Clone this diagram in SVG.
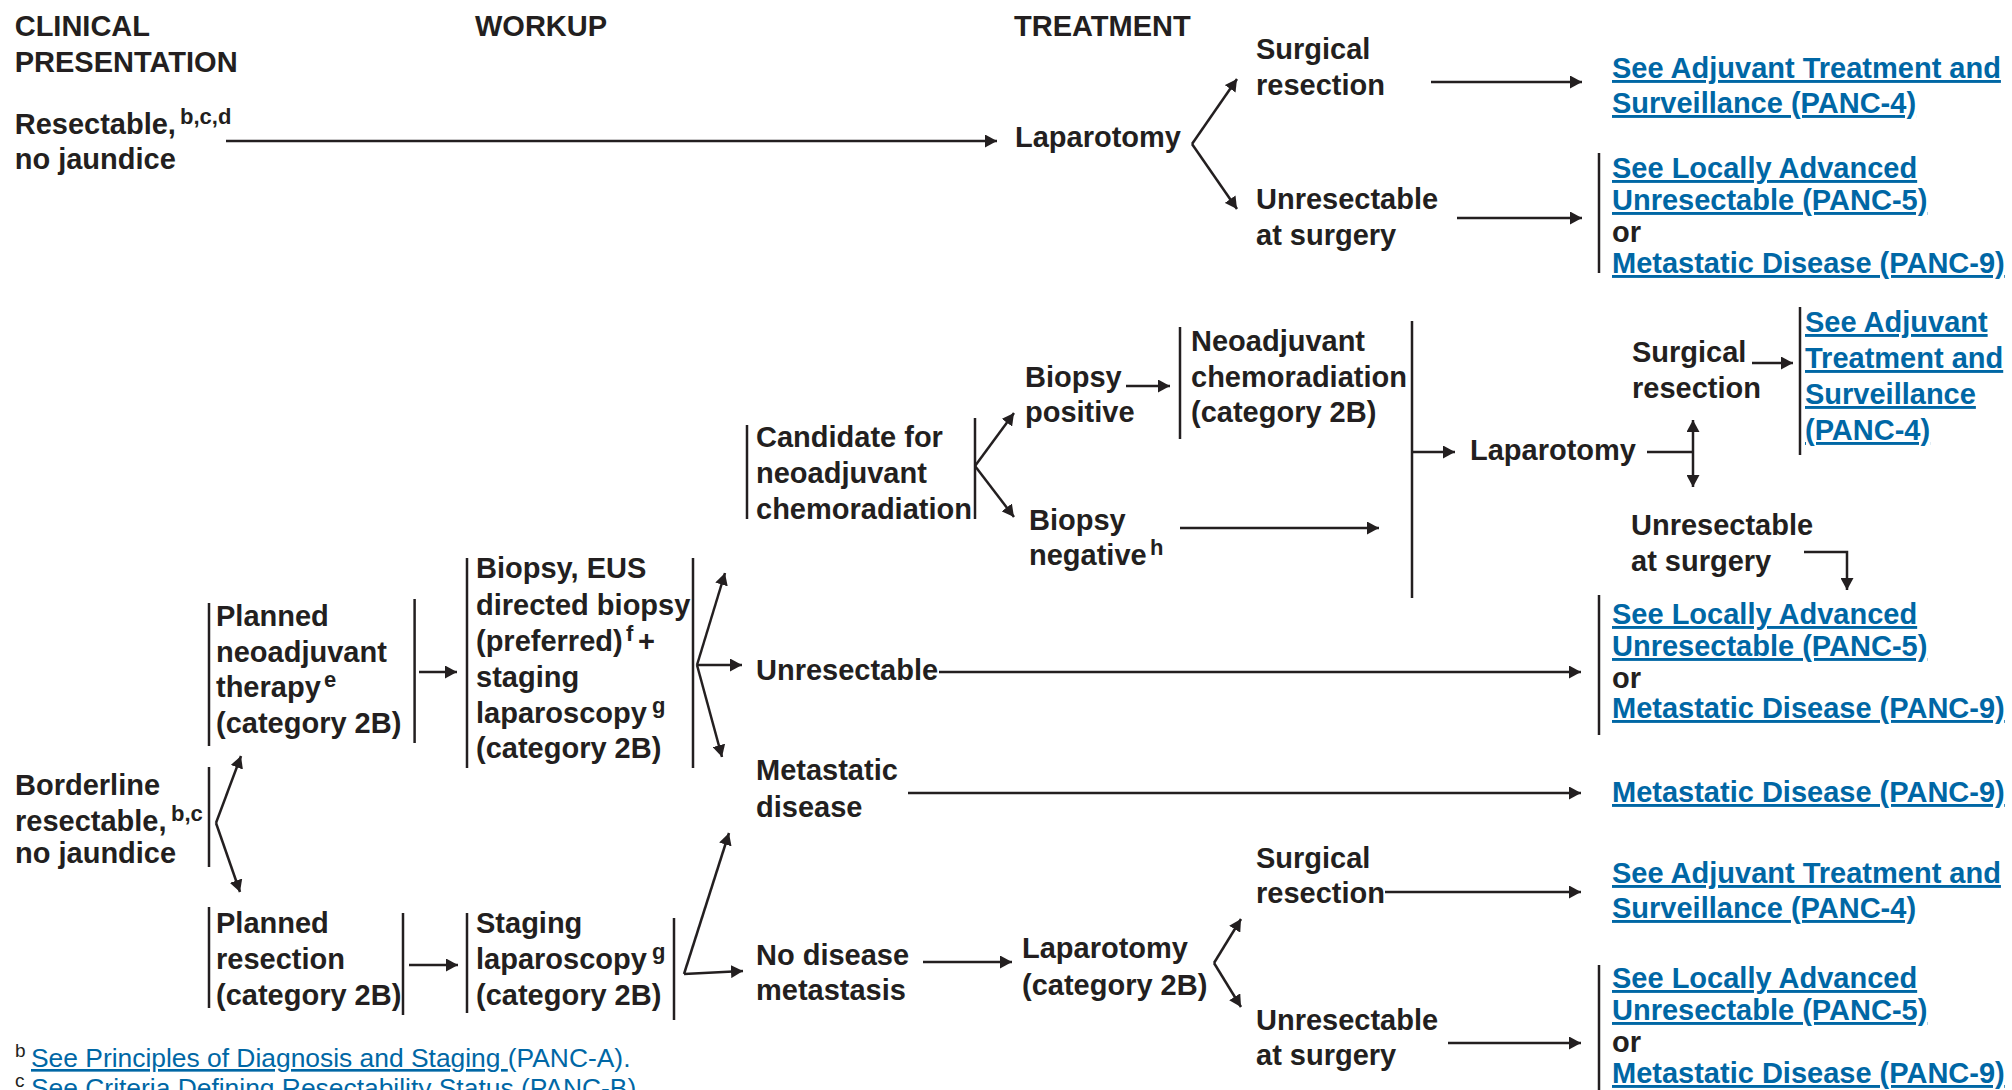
<svg xmlns="http://www.w3.org/2000/svg" width="2012" height="1090" viewBox="0 0 2012 1090">
<style>
text{font-family:"Liberation Sans",Arial,sans-serif;font-weight:bold;font-size:29px;fill:#231f20}
.lk{fill:#0067a5;text-decoration:underline}
.sup{font-size:22px}
.fn{font-weight:normal;font-size:26.4px;fill:#0067a5}
.fs{font-weight:normal;font-size:19px;fill:#231f20}
.bar{stroke:#231f20;stroke-width:2.5;fill:none}
.c line,.c path{stroke:#231f20;stroke-width:2.5;fill:none}
.a{marker-end:url(#ah)}
</style>
<defs>
<marker id="ah" markerUnits="userSpaceOnUse" markerWidth="12" markerHeight="13" refX="12" refY="6.5" orient="auto">
<path d="M0,0 L12,6.5 L0,13 Z" fill="#231f20"/>
</marker>
</defs>
<rect width="2012" height="1090" fill="#fff"/>

<g id="headers">
<text x="14.7" y="36">CLINICAL</text>
<text x="14.7" y="72">PRESENTATION</text>
<text x="475" y="36">WORKUP</text>
<text x="1014" y="36">TREATMENT</text>
</g>

<g id="n_resectable">
<text x="14.7" y="134">Resectable,</text>
<text class="sup" x="180" y="124">b,c,d</text>
<text x="14.7" y="169">no jaundice</text>
</g>
<g id="n_lap1"><text x="1015" y="147">Laparotomy</text></g>
<g id="n_surg1"><text x="1256" y="59">Surgical</text><text x="1256" y="95">resection</text></g>
<g id="n_unres1"><text x="1256" y="209">Unresectable</text><text x="1256" y="245">at surgery</text></g>
<g id="n_link1"><text class="lk" x="1612" y="78">See Adjuvant Treatment and</text><text class="lk" x="1612" y="113">Surveillance (PANC-4)</text></g>
<g id="n_link2">
<line class="bar" x1="1599" y1="153" x2="1599" y2="273"/>
<text class="lk" x="1612" y="178">See Locally Advanced</text>
<text class="lk" x="1612" y="210">Unresectable (PANC-5)</text>
<text x="1612" y="242">or</text>
<text class="lk" x="1612" y="273">Metastatic Disease (PANC-9)</text>
</g>

<g id="n_borderline">
<text x="15" y="795">Borderline</text>
<text x="15" y="831">resectable,</text>
<text class="sup" x="171" y="821">b,c</text>
<text x="15" y="863">no jaundice</text>
<line class="bar" x1="209" y1="767" x2="209" y2="867"/>
</g>
<g id="n_planned_neo">
<line class="bar" x1="209" y1="603" x2="209" y2="746"/>
<text x="216" y="626">Planned</text>
<text x="216" y="662">neoadjuvant</text>
<text x="216" y="697">therapy</text>
<text class="sup" x="324" y="687">e</text>
<text x="216" y="733">(category 2B)</text>
<line class="bar" x1="414.6" y1="599" x2="414.6" y2="743"/>
</g>
<g id="n_biopsy_eus">
<line class="bar" x1="467" y1="558" x2="467" y2="768"/>
<text x="476" y="578">Biopsy, EUS</text>
<text x="476" y="615">directed biopsy</text>
<text x="476" y="651">(preferred)</text>
<text class="sup" x="626" y="641">f</text>
<text x="638" y="651">+</text>
<text x="476" y="687">staging</text>
<text x="476" y="723">laparoscopy</text>
<text class="sup" x="652" y="713">g</text>
<text x="476" y="758">(category 2B)</text>
<line class="bar" x1="693" y1="558" x2="693" y2="768"/>
</g>
<g id="n_candidate">
<line class="bar" x1="747" y1="425" x2="747" y2="519"/>
<text x="756" y="447">Candidate for</text>
<text x="756" y="483">neoadjuvant</text>
<text x="756" y="519">chemoradiation</text>
<line class="bar" x1="975" y1="418" x2="975" y2="519"/>
</g>
<g id="n_bpos"><text x="1025" y="387">Biopsy</text><text x="1025" y="422">positive</text></g>
<g id="n_neochemo">
<line class="bar" x1="1180" y1="327" x2="1180" y2="439"/>
<text x="1191" y="351">Neoadjuvant</text>
<text x="1191" y="387">chemoradiation</text>
<text x="1191" y="422">(category 2B)</text>
</g>
<g id="n_bneg"><text x="1029" y="530">Biopsy</text><text x="1029" y="565">negative</text><text class="sup" x="1150" y="555">h</text></g>
<g id="n_lap2"><text x="1470" y="460">Laparotomy</text></g>
<g id="n_surg2"><text x="1632" y="362">Surgical</text><text x="1632" y="398">resection</text></g>
<g id="n_link3">
<line class="bar" x1="1800" y1="307" x2="1800" y2="455"/>
<text class="lk" x="1805" y="332">See Adjuvant</text>
<text class="lk" x="1805" y="368">Treatment and</text>
<text class="lk" x="1805" y="404">Surveillance</text>
<text class="lk" x="1805" y="440">(PANC-4)</text>
</g>
<g id="n_unres2"><text x="1631" y="535">Unresectable</text><text x="1631" y="571">at surgery</text></g>
<g id="n_link4">
<line class="bar" x1="1599" y1="595" x2="1599" y2="735"/>
<text class="lk" x="1612" y="624">See Locally Advanced</text>
<text class="lk" x="1612" y="656">Unresectable (PANC-5)</text>
<text x="1612" y="688">or</text>
<text class="lk" x="1612" y="718">Metastatic Disease (PANC-9)</text>
</g>
<g id="n_unres_mid"><text x="756" y="680">Unresectable</text></g>
<g id="n_meta"><text x="756" y="780">Metastatic</text><text x="756" y="817">disease</text></g>
<g id="n_link5"><text class="lk" x="1612" y="802">Metastatic Disease (PANC-9)</text></g>
<g id="n_planned_res">
<line class="bar" x1="209" y1="907" x2="209" y2="1008"/>
<text x="216" y="933">Planned</text>
<text x="216" y="969">resection</text>
<text x="216" y="1005">(category 2B)</text>
<line class="bar" x1="403" y1="913" x2="403" y2="1015"/>
</g>
<g id="n_staging">
<line class="bar" x1="467" y1="913" x2="467" y2="1013"/>
<text x="476" y="933">Staging</text>
<text x="476" y="969">laparoscopy</text>
<text class="sup" x="652" y="959">g</text>
<text x="476" y="1005">(category 2B)</text>
<line class="bar" x1="674" y1="918" x2="674" y2="1020"/>
</g>
<g id="n_nodisease"><text x="756" y="965">No disease</text><text x="756" y="1000">metastasis</text></g>
<g id="n_lap3"><text x="1022" y="958">Laparotomy</text><text x="1022" y="995">(category 2B)</text></g>
<g id="n_surg3"><text x="1256" y="868">Surgical</text><text x="1256" y="903">resection</text></g>
<g id="n_unres3"><text x="1256" y="1030">Unresectable</text><text x="1256" y="1065">at surgery</text></g>
<g id="n_link6"><text class="lk" x="1612" y="883">See Adjuvant Treatment and</text><text class="lk" x="1612" y="918">Surveillance (PANC-4)</text></g>
<g id="n_link7">
<line class="bar" x1="1599" y1="965" x2="1599" y2="1090"/>
<text class="lk" x="1612" y="988">See Locally Advanced</text>
<text class="lk" x="1612" y="1020">Unresectable (PANC-5)</text>
<text x="1612" y="1052">or</text>
<text class="lk" x="1612" y="1083">Metastatic Disease (PANC-9)</text>
</g>

<g id="footnotes">
<text class="fs" x="15" y="1057">b</text>
<text class="fn" x="31" y="1067"><tspan text-decoration="underline">See Principles of Diagnosis and Staging </tspan>(PANC-A).</text>
<text class="fs" x="15" y="1087">c</text>
<text class="fn" x="31" y="1097"><tspan text-decoration="underline">See Criteria Defining Resectability Status </tspan>(PANC-B).</text>
</g>

<g id="connectors" class="c">
<line class="a" x1="226" y1="141" x2="997" y2="141"/>
<line class="a" x1="1192" y1="144" x2="1237" y2="79"/>
<line class="a" x1="1192" y1="144" x2="1237" y2="209"/>
<line class="a" x1="1431" y1="82" x2="1582" y2="82"/>
<line class="a" x1="1457" y1="218" x2="1582" y2="218"/>
<line class="a" x1="216" y1="823" x2="241" y2="756"/>
<line class="a" x1="216" y1="823" x2="240" y2="892"/>
<line class="a" x1="419" y1="672" x2="457" y2="672"/>
<line class="a" x1="697" y1="665" x2="725" y2="573"/>
<line class="a" x1="697" y1="665" x2="742" y2="665"/>
<line class="a" x1="697" y1="665" x2="722" y2="757"/>
<line class="a" x1="975" y1="466" x2="1014" y2="413"/>
<line class="a" x1="975" y1="466" x2="1014" y2="517"/>
<line class="a" x1="1126" y1="386" x2="1170" y2="386"/>
<line class="a" x1="1180" y1="528" x2="1379" y2="528"/>
<line x1="1412" y1="321" x2="1412" y2="598"/>
<line class="a" x1="1412" y1="452" x2="1455" y2="452"/>
<line x1="1647" y1="452" x2="1693" y2="452"/>
<line class="a" x1="1693" y1="452" x2="1693" y2="420"/>
<line class="a" x1="1693" y1="452" x2="1693" y2="487"/>
<line class="a" x1="1752" y1="363" x2="1793" y2="363"/>
<path class="a" d="M1804,552 H1847 V590"/>
<line class="a" x1="939" y1="672" x2="1581" y2="672"/>
<line class="a" x1="908" y1="793" x2="1581" y2="793"/>
<line class="a" x1="409" y1="965" x2="458" y2="965"/>
<line class="a" x1="684" y1="974" x2="729" y2="833"/>
<line class="a" x1="684" y1="974" x2="743" y2="971"/>
<line class="a" x1="923" y1="962" x2="1012" y2="962"/>
<line class="a" x1="1214" y1="963" x2="1241" y2="919"/>
<line class="a" x1="1214" y1="963" x2="1241" y2="1007"/>
<line class="a" x1="1385" y1="892" x2="1581" y2="892"/>
<line class="a" x1="1448" y1="1043" x2="1581" y2="1043"/>
</g>
</svg>
